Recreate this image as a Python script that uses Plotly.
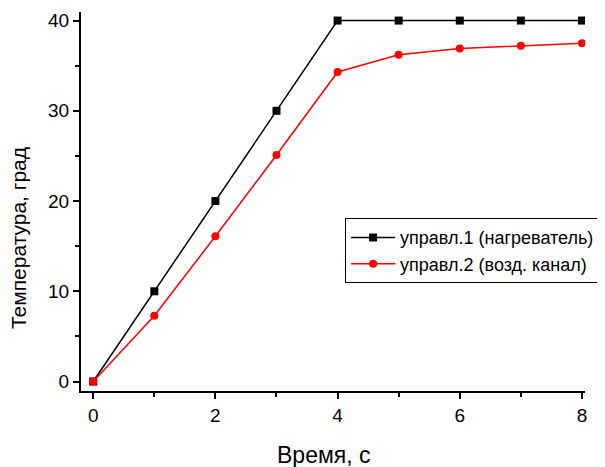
import plotly.graph_objects as go

time_s = [0, 1, 2, 3, 4, 5, 6, 7, 8]
heater = [0, 10, 20, 30, 40, 40, 40, 40, 40]
air_channel = [0, 7.3, 16.1, 25.1, 34.3, 36.2, 36.9, 37.2, 37.5]
series_names = ["управл.1 (нагреватель)", "управл.2 (возд. канал)"]
x_title = "Время, с"
y_title = "Температура, град"

fig = go.Figure()
fig.add_trace(go.Scatter(
    x=time_s, y=heater, name=series_names[0], mode="lines+markers",
    line=dict(color="black", width=1.5),
    marker=dict(symbol="square", size=8, color="black")))
fig.add_trace(go.Scatter(
    x=time_s, y=air_channel, name=series_names[1], mode="lines+markers",
    line=dict(color="red", width=1.5),
    marker=dict(symbol="circle", size=8, color="red")))

font_family = "Liberation Sans, Arial, sans-serif"
fig.update_layout(
    width=597, height=459,
    margin=dict(l=73, r=20, t=4, b=76),
    paper_bgcolor="white", plot_bgcolor="white",
    font=dict(family=font_family, color="black"),
    showlegend=True,
    legend=dict(x=0.524, y=0.456, xanchor="left", yanchor="top",
                bordercolor="black", borderwidth=1, bgcolor="white",
                font=dict(size=18, family=font_family), tracegroupgap=0,
                itemwidth=44),
    xaxis=dict(range=[-0.2, 8.05], tickvals=[0, 2, 4, 6, 8],
               automargin=False,
               showline=True, linecolor="black", linewidth=2,
               ticks="outside", ticklen=6, tickwidth=1.5, tickcolor="black",
               minor=dict(tickvals=[1, 3, 5, 7], ticks="outside", ticklen=4,
                          tickwidth=1.5, tickcolor="black", showgrid=False),
               showgrid=False, zeroline=False,
               tickfont=dict(size=19)),
    yaxis=dict(range=[-1.05, 40.95], tickvals=[0, 10, 20, 30, 40],
               automargin=False,
               showline=True, linecolor="black", linewidth=2,
               ticks="outside", ticklen=6, tickwidth=1.5, tickcolor="black",
               minor=dict(tickvals=[5, 15, 25, 35], ticks="outside", ticklen=4,
                          tickwidth=1.5, tickcolor="black", showgrid=False),
               showgrid=False, zeroline=False,
               tickfont=dict(size=19)),
    annotations=[
        dict(text=x_title, xref="paper", yref="paper", x=0.482, y=-0.169,
             xanchor="center", yanchor="middle", showarrow=False,
             font=dict(size=23)),
        dict(text=y_title, xref="paper", yref="paper", x=-0.125, y=0.4035,
             xanchor="center", yanchor="middle", showarrow=False,
             textangle=-90, font=dict(size=21)),
    ],
)

fig.write_html("out.html")
